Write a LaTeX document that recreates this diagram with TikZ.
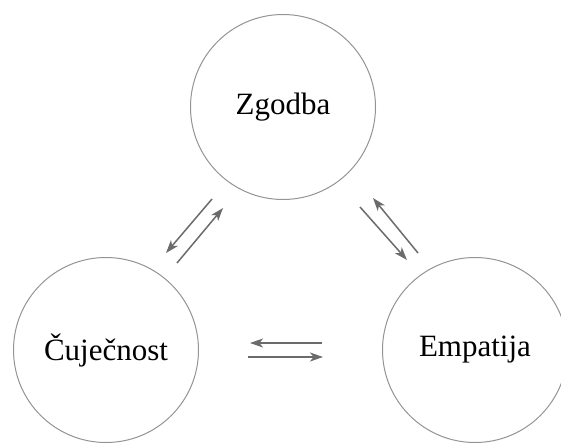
\documentclass[tikz,border=0pt]{standalone}
\usepackage{fontspec}
\setmainfont{Liberation Serif}
\usetikzlibrary{arrows.meta}
\begin{document}
\begin{tikzpicture}[x=1pt,y=-1pt,
  topic/.style={circle,draw=black!42,line width=1pt,minimum size=185pt,inner sep=0pt,
    font=\fontsize{31}{37}\selectfont},
  flow/.style={draw=black!58,line width=1.5pt,
    -{Stealth[length=13pt,width=9pt,inset=3.5pt]}}]
\useasboundingbox (0,0) rectangle (561,444);
% the three topics
\node[topic] (zg) at (283,107) {Zgodba};
\node[topic] (cu) at (106,350) {Čuječnost};
\node[topic] (em) at (475,350) {Empatija};
% arrow end points between the circles
\coordinate (zc1) at (212,199); \coordinate (zc2) at (166,253);
\coordinate (cz1) at (177,263); \coordinate (cz2) at (223,208);
\coordinate (ez1) at (418,253); \coordinate (ez2) at (373,198);
\coordinate (ze1) at (360,207); \coordinate (ze2) at (407,260);
\coordinate (ec1) at (322,343); \coordinate (ec2) at (250,343);
\coordinate (ce1) at (248,357); \coordinate (ce2) at (323,357);
% two-way links
\draw[flow] (zc1) -- (zc2);
\draw[flow] (cz1) -- (cz2);
\draw[flow] (ez1) -- (ez2);
\draw[flow] (ze1) -- (ze2);
\draw[flow] (ec1) -- (ec2);
\draw[flow] (ce1) -- (ce2);
\end{tikzpicture}
\end{document}
